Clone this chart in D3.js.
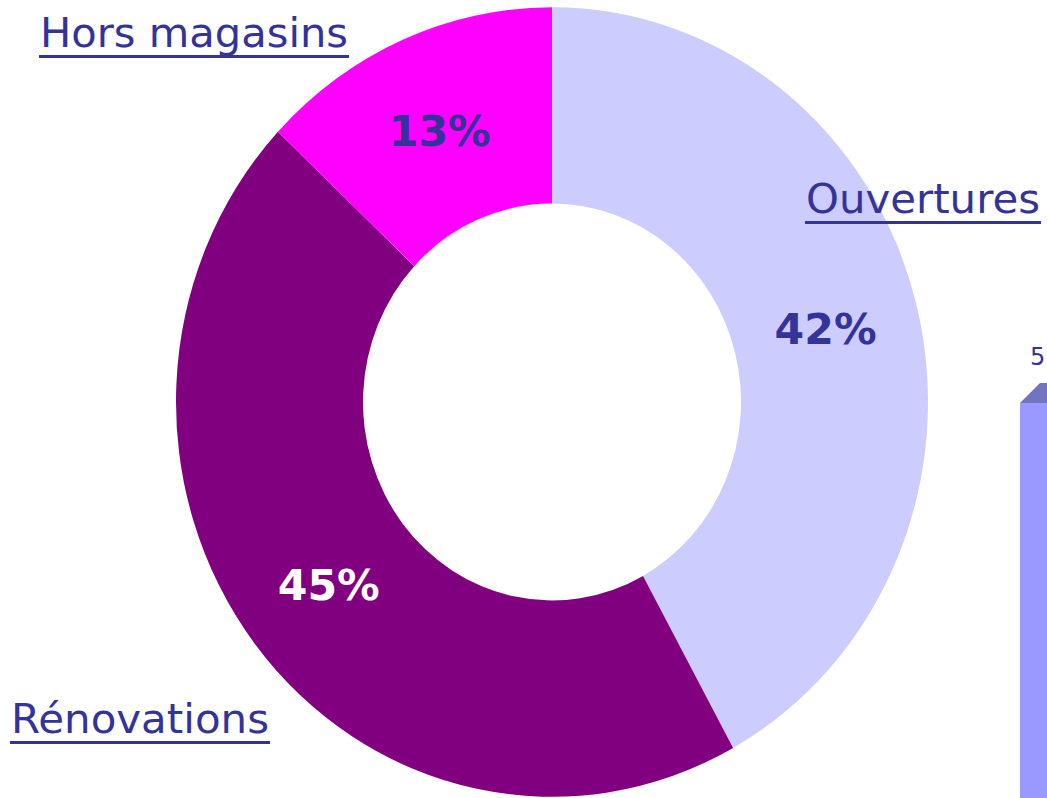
<!DOCTYPE html>
<html>
<head>
<meta charset="utf-8">
<script src="https://cdn.jsdelivr.net/npm/d3@7"></script>
<style>
  html, body { margin: 0; padding: 0; background: #ffffff; }
  svg { display: block; }
</style>
</head>
<body>
<svg id="chart" width="1047" height="798"></svg>
<script>
// ---- data ----
const categories = ["Ouvertures", "Rénovations", "Hors magasins"];
const values = [42, 45, 13];
const valueLabels = ["42%", "45%", "13%"];
const sliceColors = ["#ccccff", "#800080", "#ff00ff"];
const valueLabelColors = ["#333399", "#ffffff", "#333399"];
// partial neighbouring bar chart at the right edge
const barCategories = ["b1"];
const barValues = [5];
const barLabels = ["5"];

// ---- layout ----
const svg = d3.select("#chart");
const cx = 552, cy = 402;
const rOuter = 376, rInner = 189;
const yStretch = 1.05;
const textColor = "#333399";

const pie = d3.pie().sort(null).value(d => d)(values);
const arc = d3.arc().innerRadius(rInner).outerRadius(rOuter);

const g = svg.append("g").attr("transform", `translate(${cx},${cy}) scale(1,${yStretch})`);
g.selectAll("path").data(pie).join("path")
  .attr("d", arc)
  .attr("fill", (d, i) => sliceColors[i]);

// value labels at arc centroids
svg.append("g").selectAll("text").data(pie).join("text")
  .attr("x", d => cx + arc.centroid(d)[0])
  .attr("y", d => cy + arc.centroid(d)[1] * yStretch + 16)
  .attr("text-anchor", "middle")
  .attr("font-family", "DejaVu Sans, sans-serif")
  .attr("font-weight", "bold")
  .attr("font-size", 42)
  .attr("textLength", 102)
  .attr("lengthAdjust", "spacingAndGlyphs")
  .attr("fill", (d, i) => valueLabelColors[i])
  .text((d, i) => valueLabels[i]);

// category labels (underlined)
const catPos = [
  { x: 806, y: 213, w: 234 },
  { x: 11, y: 733, w: 258 },
  { x: 40, y: 47, w: 308 }
];
const lg = svg.append("g");
categories.forEach((c, i) => {
  const p = catPos[i];
  lg.append("text")
    .attr("x", p.x).attr("y", p.y)
    .attr("font-family", "DejaVu Sans, sans-serif")
    .attr("font-size", 41)
    .attr("textLength", p.w)
    .attr("lengthAdjust", "spacingAndGlyphs")
    .attr("fill", textColor)
    .text(c);
  lg.append("rect")
    .attr("x", p.x - 1).attr("y", p.y + 8)
    .attr("width", p.w + 2).attr("height", 3)
    .attr("fill", textColor);
});

// partial 3D bar at right edge
const barTop = 403, barBottom = 798;
const yBar = d3.scaleLinear().domain([0, barValues[0]]).range([barBottom, barTop]);
const xBar = d3.scaleBand().domain(barCategories).range([1020, 1100]).padding(0);
const bg = svg.append("g");
barCategories.forEach((c, i) => {
  const x0 = xBar(c), bw = xBar.bandwidth(), y0 = yBar(barValues[i]);
  const dx = 20, dy = 20;
  bg.append("path")
    .attr("d", `M${x0},${y0} L${x0 + dx},${y0 - dy} L${x0 + bw + dx},${y0 - dy} L${x0 + bw},${y0} Z`)
    .attr("fill", "#7373bf");
  bg.append("rect")
    .attr("x", x0).attr("y", y0)
    .attr("width", bw).attr("height", yBar(0) - y0)
    .attr("fill", "#9999ff");
  bg.append("text")
    .attr("x", x0 + 10).attr("y", y0 - 38)
    .attr("font-family", "DejaVu Sans, sans-serif")
    .attr("font-size", 24)
    .attr("fill", textColor)
    .text(barLabels[i]);
});
</script>
</body>
</html>
